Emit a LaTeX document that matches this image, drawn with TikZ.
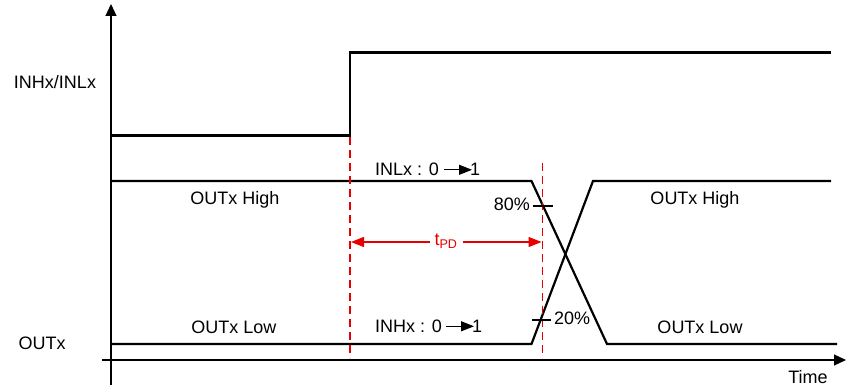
\documentclass[tikz,border=0pt]{standalone}
\usepackage{fontspec}
\setmainfont{Liberation Sans}
\usetikzlibrary{arrows.meta}
\definecolor{tred}{RGB}{230,0,0}
\tikzset{
  sig/.style={line width=2.2pt, line join=miter},
  axis/.style={line width=1.2pt, -{Triangle[length=12pt,width=11pt]}},
  guide/.style={tred, line width=1.2pt, dash pattern=on 8pt off 5pt},
  dim/.style={tred, line width=1.2pt, {Triangle[length=13pt,width=10pt]}-{Triangle[length=13pt,width=10pt]}},
  tick/.style={line width=1.2pt},
  lbl/.style={font=\fontsize{18}{21}\selectfont, inner sep=0pt},
  txtarr/.style={line width=1.2pt, -{Triangle[length=13pt,width=10pt]}},
}
\begin{document}
\begin{tikzpicture}[x=1pt,y=-1pt]
\useasboundingbox (0,0) rectangle (846,387);
% axes
\coordinate (yb) at (111,385);
\coordinate (yt) at (111,4);
\coordinate (xl) at (102,360);
\coordinate (xr) at (846,360);
\draw[axis] (yb) -- (yt);
\draw[axis] (xl) -- (xr);
% input signal
\draw[sig] (111,135.5) -- (350,135.5) -- (350,52.5) -- (831,52.5);
% outputs
\coordinate (f0) at (531.5,181);
\coordinate (f1) at (607,344);
\coordinate (r0) at (531.5,344);
\coordinate (r1) at (593,181);
\draw[sig] (111,181) -- (f0) -- (f1) -- (837,344);
\draw[sig] (111,344) -- (r0) -- (r1) -- (831,181);
% guides
\coordinate (g1t) at (350,137);
\coordinate (g1b) at (350,358);
\coordinate (g2t) at (542.3,163);
\coordinate (g2b) at (542.3,358);
\draw[guide] (g1t) -- (g1b);
\draw[guide] (g2t) -- (g2b);
% tPD
\coordinate (d0) at (351,242);
\coordinate (d1) at (541.5,242);
\draw[dim] (d0) -- (d1);
\node[lbl, text=tred, fill=white, inner xsep=5pt, inner ysep=1pt, anchor=base] (tpd) at (446,246) {t\textsubscript{PD}};
% percentage ticks
\coordinate (t8a) at (533,206);
\coordinate (t8b) at (553,206);
\coordinate (t2a) at (532,320);
\coordinate (t2b) at (551,320);
\draw[tick] (t8a) -- (t8b);
\draw[tick] (t2a) -- (t2b);
\node[lbl, anchor=base east] (p80) at (530,211) {80\%};
\node[lbl, anchor=base west] (p20) at (554,325) {20\%};
% labels
\node[lbl, anchor=base] (inh) at (55,89) {INHx/INLx};
\node[lbl, anchor=base] (outx) at (42,349.5) {OUTx};
\node[lbl, anchor=base] (oh1) at (235,205) {OUTx High};
\node[lbl, anchor=base] (oh2) at (695,205) {OUTx High};
\node[lbl, anchor=base] (ol1) at (234,333.5) {OUTx Low};
\node[lbl, anchor=base] (ol2) at (700,333.5) {OUTx Low};
\node[lbl, anchor=base] (time) at (808,383) {Time};
% transition notes
\node[lbl, anchor=base west] (inl) at (375,175.5) {INLx : 0};
\node[lbl, anchor=base west] (inl1) at (470,175.5) {1};
\draw[txtarr] ([xshift=5pt,yshift=5.7pt]inl.base east) -- ([xshift=2pt,yshift=5.7pt]inl1.base west);
\node[lbl, anchor=base west] (inhn) at (375,332) {INHx : 0};
\node[lbl, anchor=base west] (inhn1) at (472,332) {1};
\draw[txtarr] ([xshift=4pt,yshift=5.7pt]inhn.base east) -- ([xshift=2pt,yshift=5.7pt]inhn1.base west);
\end{tikzpicture}
\end{document}
